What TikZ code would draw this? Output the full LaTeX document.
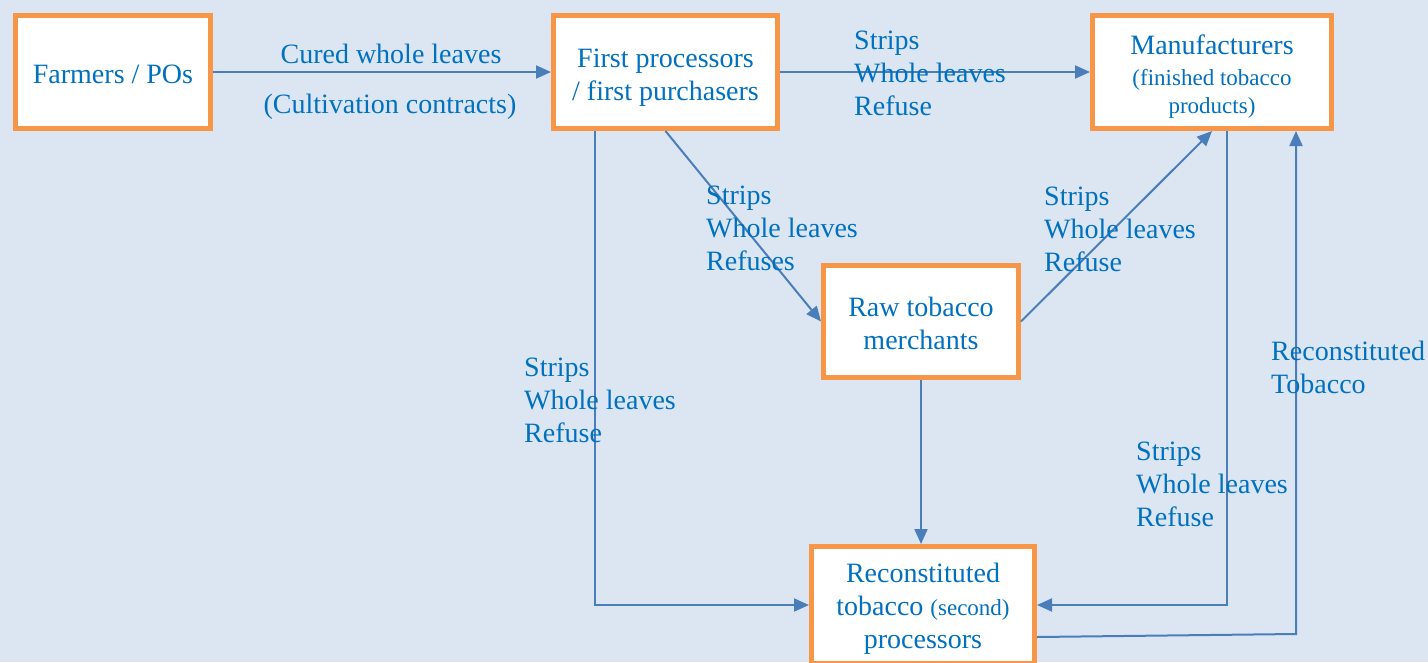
\documentclass[tikz,border=0pt]{standalone}
\usepackage{fontspec}
\setmainfont{Liberation Serif}
\usetikzlibrary{arrows.meta,calc}
\definecolor{bg}{HTML}{DCE6F2}
\definecolor{boxorange}{HTML}{F79646}
\definecolor{txtblue}{HTML}{0070C0}
\definecolor{lineblue}{HTML}{4A7EBB}
\newcommand{\smalltxt}[1]{{\fontsize{23}{28}\selectfont #1}}
\newcommand{\topstrut}[1]{\rule{0pt}{#1}}
\begin{document}
\begin{tikzpicture}[x=1pt,y=-1pt,
  box/.style={draw=boxorange,line width=5pt,fill=white,text=txtblue,align=center,
              font=\fontsize{28}{33}\selectfont,inner sep=0pt},
  lab/.style={text=txtblue,align=left,font=\fontsize{28}{33}\selectfont,inner sep=0pt,anchor=west},
  clab/.style={text=txtblue,font=\fontsize{28}{33}\selectfont,inner sep=0pt},
  conn/.style={draw=lineblue,line width=2pt,-{Triangle[length=15pt,width=13pt]}},
]
\fill[bg] (0,0) rectangle (1428,662);
\useasboundingbox (0,0) rectangle (1428,662);

% boxes
\node[box,minimum width=195pt,minimum height=113pt] (farmers) at (113,72) {\topstrut{23.5pt}Farmers / POs};
\node[box,minimum width=224pt,minimum height=113pt] (first) at (665.5,72) {\topstrut{30pt}First processors\\/ first purchasers};
\node[box,minimum width=239pt,minimum height=113pt] (manu) at (1212,72)
  {\topstrut{29pt}Manufacturers\\[-2pt]\smalltxt{(finished tobacco}\\[-5pt]\smalltxt{products)}};
\node[box,minimum width=195pt,minimum height=112pt] (raw) at (921,321.5) {\topstrut{24pt}Raw tobacco\\merchants};
\node[box,minimum width=223pt,minimum height=117pt] (recon) at (923,605)
  {\topstrut{27pt}Reconstituted\\tobacco \smalltxt{(second)}\\processors};

% connectors
\draw[conn] (farmers.east) -- (first.west);
\draw[conn] (first.east) -- (manu.west);
\draw[conn] (first.south) -- (raw.west);
\draw[conn] (raw.east) -- (manu.south);
\draw[conn] (raw.south) -- (raw.south |- recon.north);
\coordinate (fdown) at ($(first.south west)+(44,0)$);
\draw[conn] (fdown) |- (recon.west);
\coordinate (mdown) at ($(manu.south)+(15,0)$);
\draw[conn] (mdown) |- (recon.east);
\coordinate (rout) at ($(recon.east)+(0,32)$);
\coordinate (mup) at ($(manu.south)+(84,0)$);
\coordinate (corner) at ($(mup)+(0,503)$);
\draw[conn] (rout) -- (corner) -- (mup);

% labels
\node[clab] (cured) at (391,54) {Cured whole leaves};
\node[clab] (contract) at (390,107) {(Cultivation contracts)};
\node[lab] (l1) at (854,73) {Strips\\Whole leaves\\Refuse};
\node[lab] (l2) at (706,228) {Strips\\Whole leaves\\Refuses};
\node[lab] (l3) at (1044,229) {Strips\\Whole leaves\\Refuse};
\node[lab] (l4) at (524,400) {Strips\\Whole leaves\\Refuse};
\node[lab] (l5) at (1271,367) {Reconstituted\\Tobacco};
\node[lab] (l6) at (1136,484) {Strips\\Whole leaves\\Refuse};
\end{tikzpicture}
\end{document}
